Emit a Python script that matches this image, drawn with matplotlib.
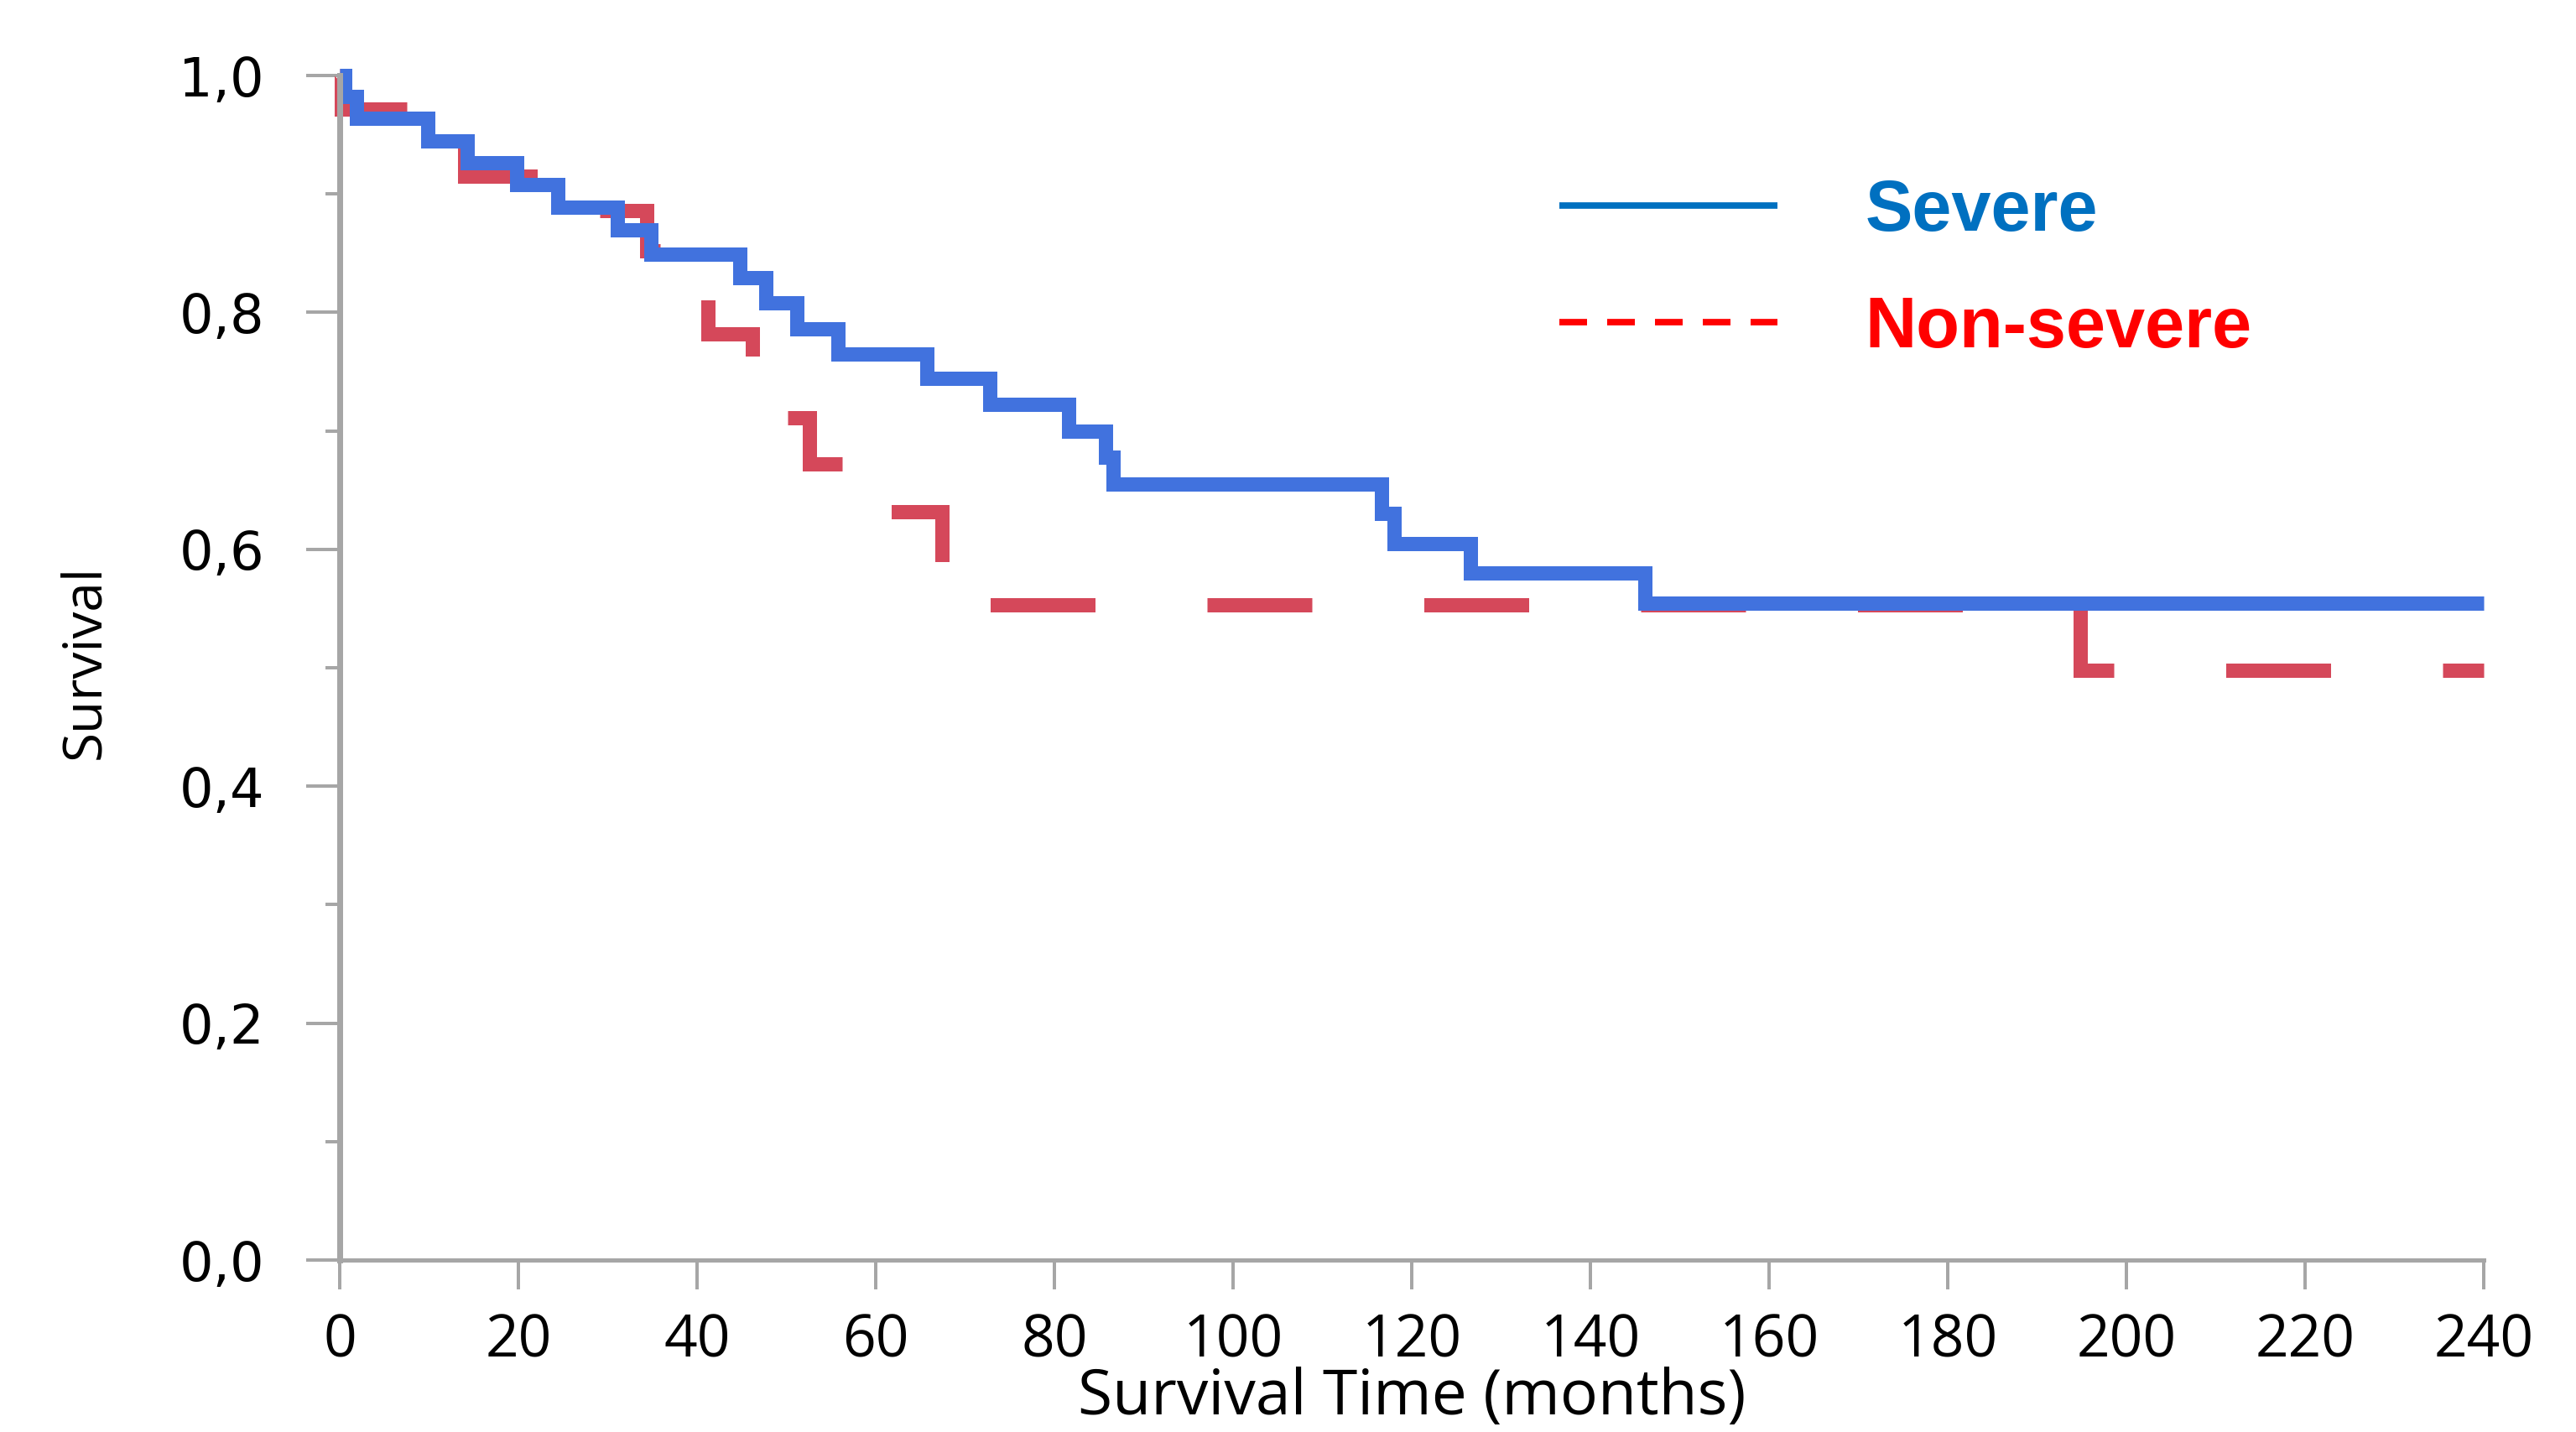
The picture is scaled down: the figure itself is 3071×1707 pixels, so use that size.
import matplotlib
matplotlib.use("Agg")
import matplotlib.pyplot as plt
from matplotlib.lines import Line2D
from matplotlib import font_manager

plt.rcParams['lines.scale_dashes'] = False

# Kaplan-Meier steps (months, survival)
severe_t = [0, 0.6, 1.9, 9.9, 14.3, 19.8, 24.4, 31.1, 34.8, 44.8, 47.7, 51.2, 55.8,
            65.7, 72.8, 81.6, 85.7, 86.6, 116.6, 118.0, 126.6, 146.1, 240]
severe_s = [1.0, 0.982, 0.964, 0.945, 0.9265, 0.908, 0.889, 0.8695, 0.849, 0.829, 0.808, 0.786, 0.765,
            0.744, 0.7225, 0.700, 0.678, 0.655, 0.630, 0.605, 0.580, 0.5545, 0.5545]

nonsevere_t = [0, 0.2, 14.0, 24.5, 34.4, 41.2, 46.2, 52.6, 58.5, 67.4, 194.8, 240]
nonsevere_s = [1.0, 0.972, 0.915, 0.886, 0.852, 0.782, 0.711, 0.672, 0.632, 0.553, 0.498, 0.498]

x_ticks = list(range(0, 241, 20))
y_ticks = [0.0, 0.2, 0.4, 0.6, 0.8, 1.0]
y_ticklabels = ['0,0', '0,2', '0,4', '0,6', '0,8', '1,0']
y_minor = [0.1, 0.3, 0.5, 0.7, 0.9]
legend_labels = ['Severe', 'Non-severe']

DPI = 200
PX = 72 / DPI  # points per pixel

blue = '#4172DE'
red = '#D5485A'
gray = '#A6A6A6'

installed = {f.name for f in font_manager.fontManager.ttflist}
narrow = 'Liberation Sans Narrow' if 'Liberation Sans Narrow' in installed else 'Open Sans'

fig = plt.figure(figsize=(3071 / DPI, 1707 / DPI), dpi=DPI)
ax = fig.add_axes([405 / 3071, 205 / 1707, (2961 - 405) / 3071, 1412 / 1707])

# the dash rhythm of the original changes once the curve reaches its long plateau
split = nonsevere_t.index(67.4)
ax.plot(nonsevere_t[:split + 1], nonsevere_s[:split + 1], drawstyle='steps-post', color=red,
        lw=17 * PX, linestyle=(0, (120 * PX, 115.5 * PX)), dash_capstyle='butt',
        dash_joinstyle='miter', clip_on=False, zorder=2)
ax.plot(nonsevere_t[split:], nonsevere_s[split:], drawstyle='steps-post', color=red,
        lw=17 * PX, linestyle=(201 * PX, (125 * PX, 133.5 * PX)), dash_capstyle='butt',
        dash_joinstyle='miter', clip_on=False, zorder=2)
ax.plot(severe_t, severe_s, drawstyle='steps-post', color=blue, lw=17 * PX,
        solid_capstyle='butt', solid_joinstyle='miter', clip_on=False, zorder=3)

ax.set_xlim(0, 240)
ax.set_ylim(0, 1.0)
ax.set_xticks(x_ticks)
ax.set_yticks(y_ticks, y_ticklabels)
ax.set_yticks(y_minor, minor=True)

for side in ['top', 'right']:
    ax.spines[side].set_visible(False)
ax.spines['left'].set_linewidth(7 * PX)
ax.spines['bottom'].set_linewidth(5 * PX)
for side in ['left', 'bottom']:
    ax.spines[side].set_color(gray)
    ax.spines[side].set_zorder(5)

ax.tick_params(axis='y', which='major', length=40 * PX, width=4 * PX, color=gray, pad=18, labelsize=23)
ax.tick_params(axis='y', which='minor', length=17 * PX, width=4 * PX, color=gray)
ax.tick_params(axis='x', which='major', length=35 * PX, width=4 * PX, color=gray, pad=10, labelsize=25)
for lbl in ax.get_xticklabels():
    lbl.set_fontfamily('Open Sans')

ax.set_xlabel('Survival Time (months)', fontsize=27, family='Open Sans')
ax.xaxis.set_label_coords(0.5, -0.090)
ax.set_ylabel('Survival', fontsize=28 if narrow != 'Open Sans' else 23, family=narrow)
ax.yaxis.set_label_coords(-0.1065, 0.505)

handles = [Line2D([], [], color='#0070C0', lw=7.7 * PX, solid_capstyle='butt'),
           Line2D([], [], color='#FF0000', lw=7.7 * PX, linestyle=(0, (33 * PX, 24 * PX)),
                  dash_capstyle='butt')]
leg = ax.legend(handles, legend_labels, loc='upper left', bbox_to_anchor=(0.569, 0.913),
                frameon=False, prop=dict(family='Liberation Sans', weight='bold', size=30.5),
                handlelength=3.07, handletextpad=1.23, labelspacing=0.70,
                borderpad=0, borderaxespad=0)
for txt, c in zip(leg.get_texts(), ['#0070C0', '#FF0000']):
    txt.set_color(c)

fig.savefig('out.png', dpi=DPI)
